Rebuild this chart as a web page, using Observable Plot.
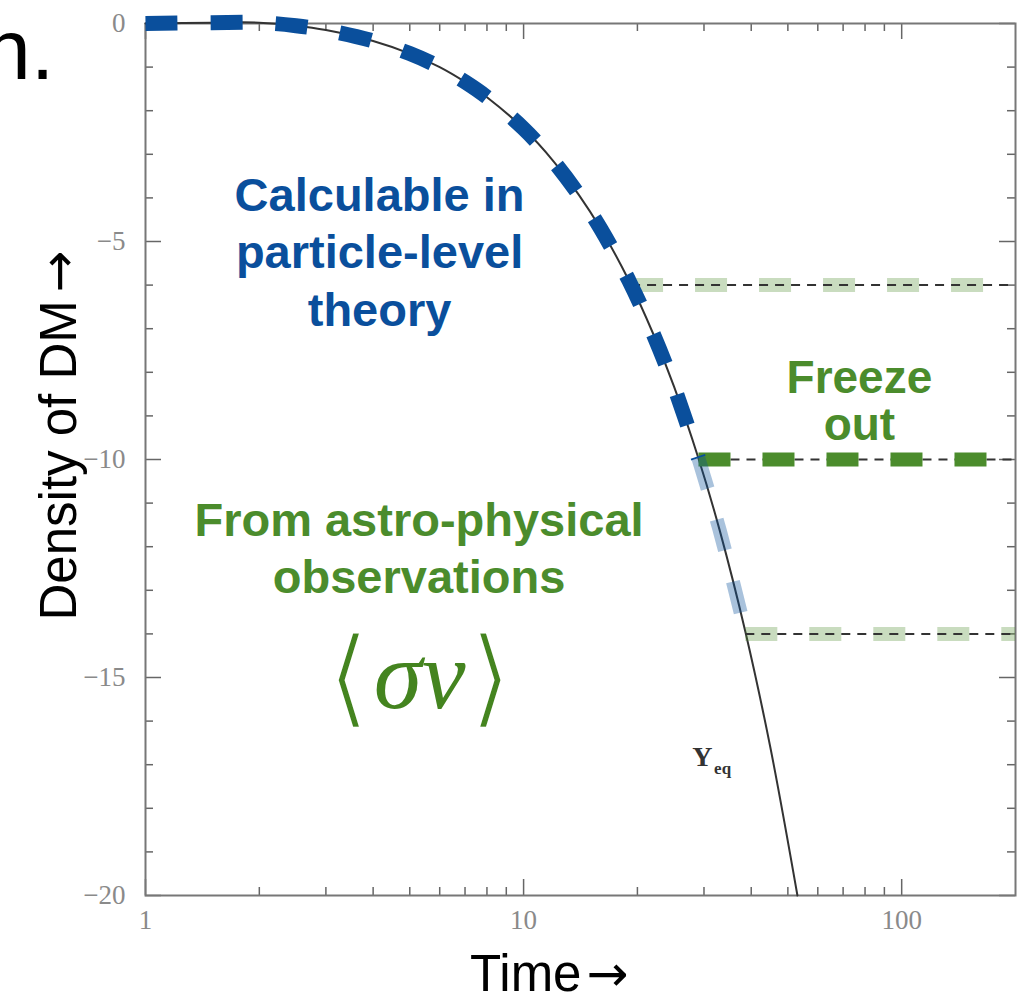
<!DOCTYPE html>
<html>
<head>
<meta charset="utf-8">
<script src="https://cdn.jsdelivr.net/npm/d3@7"></script>
<script src="https://cdn.jsdelivr.net/npm/@observablehq/plot@0.6"></script>
<style>
  html, body { margin: 0; padding: 0; background: #fff; overflow: hidden; }
  #chart svg { display: block; }
</style>
</head>
<body>
<div id="chart"></div>
<script>
// Equilibrium density Y_eq (log10, relative) against time (log axis)
const timeEq    = [1, 1.5, 2, 2.5, 3, 4, 5, 6, 7, 8, 10, 12, 14, 16, 19, 22, 25, 29, 33, 38.6, 45, 53];
const densityEq = [0, 0.02, 0.02, -0.05, -0.15, -0.4, -0.69, -1.0, -1.34, -1.69, -2.41, -3.16, -3.93, -4.71, -5.9, -7.11, -8.33, -9.97, -11.62, -13.95, -16.63, -20.0];

// Freeze-out plateaus: where each leaves the equilibrium curve, and its relic level
const freezeStart    = [19.3, 29.1, 38.7];
const freezeLevel    = [-6, -10, -14];
const freezeEmphasis = ["faint", "strong", "faint"];
const timeEnd = 200;

// Where the particle-theory part of the curve ends (solid), then fades out
const theoryEnd = 29;
const theoryFadeEnd = 38.6;

// Axis ticks and labels
const xMajor = [1, 10, 100];
const xMajorLabels = ["1", "10", "100"];
const xMinor = [2, 3, 4, 5, 6, 7, 8, 9, 20, 30, 40, 50, 60, 70, 80, 90];
const yMajor = [0, -5, -10, -15, -20];
const yMajorLabels = ["0", "\u22125", "\u221210", "\u221215", "\u221220"];
const yMinor = [-1, -2, -3, -4, -6, -7, -8, -9, -11, -12, -13, -14, -16, -17, -18, -19];

const W = 1034, H = 998;
const mt = 23, mr = 19, mb = 103, ml = 145;
const frameW = W - ml - mr, frameH = H - mt - mb;
const majorLen = 16, minorLen = 8;

const curve = timeEq.map((t, i) => ({t, y: densityEq[i]}));
const theoryPart = curve.filter(d => d.t <= theoryEnd);
const fadedPart = curve.filter(d => d.t >= theoryEnd && d.t <= theoryFadeEnd);
const freeze = freezeLevel.map((y, i) => ({start: freezeStart[i], end: timeEnd, y, emphasis: freezeEmphasis[i]}));

const blue = "#0a4f9c";
const green = "#4b8c2c";
const mathGreen = "#44841f";
const ink = "#333";
const tickInk = "#666";
const serif = "Liberation Serif, DejaVu Serif, serif";
const sans = "Liberation Sans, Arial, Helvetica, sans-serif";

const tickStyle = {stroke: tickInk, strokeWidth: 1.5};
const titleStyle = {fill: "#000", fontFamily: sans, fontSize: 51, lineAnchor: "bottom"};
const arrowStyle = {fill: "#000", fontFamily: "DejaVu Sans", fontSize: 50, lineAnchor: "bottom", textAnchor: "start"};
const bracketStyle = {
  fill: mathGreen, stroke: "white", strokeWidth: 3, paintOrder: "normal",
  fontFamily: "DejaVu Sans", fontSize: 108, textAnchor: "middle", lineAnchor: "middle"
};

const plot = Plot.plot({
  width: W,
  height: H,
  marginTop: mt,
  marginRight: mr,
  marginBottom: mb,
  marginLeft: ml,
  style: {background: "white", overflow: "visible"},
  x: {type: "log", domain: [1, timeEnd]},
  y: {domain: [-20, 0]},
  marks: [
    // inward ticks on all four sides
    Plot.tickX(xMajor, {x: d => d, insetTop: frameH - majorLen, ...tickStyle}),
    Plot.tickX(xMinor, {x: d => d, insetTop: frameH - minorLen, ...tickStyle}),
    Plot.tickX(xMajor, {x: d => d, insetBottom: frameH - majorLen, ...tickStyle}),
    Plot.tickX(xMinor, {x: d => d, insetBottom: frameH - minorLen, ...tickStyle}),
    Plot.tickY(yMajor, {y: d => d, insetRight: frameW - majorLen, ...tickStyle}),
    Plot.tickY(yMinor, {y: d => d, insetRight: frameW - minorLen, ...tickStyle}),
    Plot.tickY(yMajor, {y: d => d, insetLeft: frameW - majorLen, ...tickStyle}),
    Plot.tickY(yMinor, {y: d => d, insetLeft: frameW - minorLen, ...tickStyle}),
    Plot.frame({stroke: "#777", strokeWidth: 2}),

    // tick labels
    Plot.axisX({
      ticks: xMajor, tickSize: 0, tickPadding: 14,
      tickFormat: d => xMajorLabels[xMajor.indexOf(d)],
      label: null, fontSize: 27, fontFamily: serif, color: "#8a8a8a"
    }),
    Plot.axisY({
      ticks: yMajor, tickSize: 0, tickPadding: 20,
      tickFormat: d => yMajorLabels[yMajor.indexOf(d)],
      label: null, fontSize: 27, fontFamily: serif, color: "#8a8a8a"
    }),

    // equilibrium curve
    Plot.line(curve, {x: "t", y: "y", curve: "catmull-rom", stroke: ink, strokeWidth: 2}),

    // freeze-out plateaus: highlight dashes under / over the thin dashed lines
    Plot.ruleY(freeze.filter(d => d.emphasis === "faint"), {
      y: "y", x1: "start", x2: "end", stroke: green, strokeOpacity: 0.3,
      strokeWidth: 14, strokeDasharray: "32,32"
    }),
    Plot.ruleY(freeze, {
      y: "y", x1: "start", x2: "end", stroke: ink, strokeWidth: 2, strokeDasharray: "9,7"
    }),
    Plot.ruleY(freeze.filter(d => d.emphasis === "strong"), {
      y: "y", x1: "start", x2: "end", stroke: green,
      strokeWidth: 14, strokeDasharray: "32,32"
    }),

    // particle-theory part of the curve
    Plot.line(fadedPart, {
      x: "t", y: "y", curve: "catmull-rom", stroke: blue, strokeOpacity: 0.35,
      strokeWidth: 14, strokeDasharray: "32,32", strokeLinecap: "butt", strokeLinejoin: "miter"
    }),
    Plot.line(theoryPart, {
      x: "t", y: "y", curve: "catmull-rom", stroke: blue,
      strokeWidth: 15, strokeDasharray: "32,33", strokeLinecap: "butt", strokeLinejoin: "miter"
    }),

    // annotations
    Plot.text(["Calculable in\nparticle-level\ntheory"], {
      x: 4.16, y: -6.93, fill: blue, fontFamily: sans, fontWeight: "bold", fontSize: 47,
      textAnchor: "middle", lineAnchor: "bottom", lineHeight: 1.22
    }),
    Plot.text(["Freeze\nout"], {
      x: 77.3, y: -9.56, fill: green, fontFamily: sans, fontWeight: "bold", fontSize: 46,
      textAnchor: "middle", lineAnchor: "bottom", lineHeight: 1.03
    }),
    Plot.text(["From astro-physical\nobservations"], {
      x: 5.29, y: -13.07, fill: green, fontFamily: sans, fontWeight: "bold", fontSize: 47,
      textAnchor: "middle", lineAnchor: "bottom", lineHeight: 1.23
    }),
    Plot.text(["\u03c3v"], {
      x: 5.31, y: -15.69, fill: mathGreen, fontFamily: serif, fontStyle: "italic", fontSize: 98,
      textAnchor: "middle", lineAnchor: "bottom"
    }),
    Plot.text(["\u27e8"], {x: 5.31, y: -15.69, dx: -71, dy: -28, ...bracketStyle}),
    Plot.text(["\u27e9"], {x: 5.31, y: -15.69, dx: 71, dy: -28, ...bracketStyle}),
    Plot.text(["Y"], {
      x: 29.7, y: -17.02, fill: "#333", fontFamily: serif, fontWeight: "bold", fontSize: 28,
      textAnchor: "middle", lineAnchor: "bottom"
    }),
    Plot.text(["eq"], {
      x: 33.6, y: -17.22, fill: "#333", fontFamily: serif, fontWeight: "bold", fontSize: 17,
      textAnchor: "middle", lineAnchor: "bottom"
    }),

    // axis titles and the clipped slide text
    Plot.text(["Time"], {frameAnchor: "bottom", dx: 1, dy: 95, textAnchor: "end", ...titleStyle}),
    Plot.text(["\u2192"], {frameAnchor: "bottom", dx: 6, dy: 95, ...arrowStyle}),
    Plot.text(["Density of DM"], {
      frameAnchor: "left", dx: -70, dy: 161, rotate: -90, textAnchor: "start", ...titleStyle
    }),
    Plot.text(["\u2192"], {
      frameAnchor: "left", dx: -70, dy: 161 - 328, rotate: -90, ...arrowStyle
    }),
    Plot.text(["n."], {
      frameAnchor: "top-left", dx: -162, dy: 55, fill: "#000", fontFamily: sans, fontSize: 85,
      textAnchor: "start", lineAnchor: "bottom"
    })
  ]
});

document.getElementById("chart").appendChild(plot);
</script>
</body>
</html>
